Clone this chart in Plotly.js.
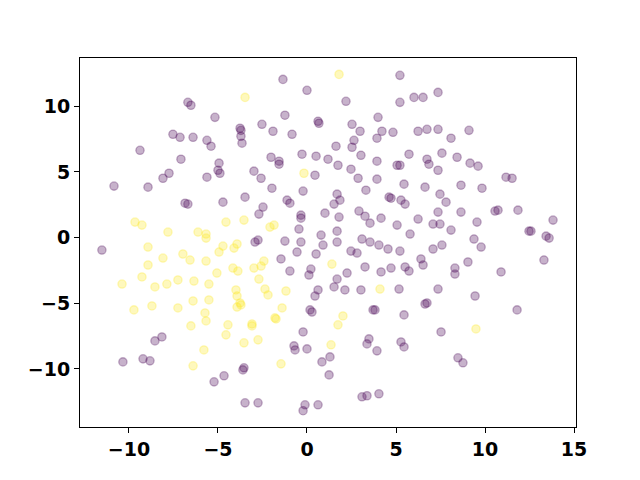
<!DOCTYPE html>
<html>
<head>
<meta charset="utf-8">
<script src="https://cdn.plot.ly/plotly-3.0.1.min.js"></script>
<style>html,body{margin:0;padding:0;background:#fff;}#chart{width:640px;height:480px;}</style>
</head>
<body>
<div id="chart"></div>
<script>
// Class 0 (purple) points
const purpleX = [-6.69,-6.52,-7.53,-7.13,-6.40,-9.38,-7.08,-7.75,-8.09,
  -1.35,0.00,-5.17,-1.24,-2.53,0.62,0.67,-3.76,-3.71,-1.91,-0.84,-3.71,-5.62,-5.39,-3.65,-2.02,-1.57,-1.57,-0.28,0.51,1.18,-4.94,-5.00,-4.89,-2.98,-2.58,-5.62,0.45,
  5.22,7.36,6.01,6.52,2.19,5.22,3.99,2.53,2.98,4.21,4.83,6.24,6.74,7.36,8.09,3.93,2.64,2.53,1.63,3.03,5.73,3.93,6.74,7.58,6.85,5.06,5.22,1.74,2.47,7.36,2.87,3.93,5.45,
  9.10,8.43,9.16,9.61,11.18,11.52,
  -10.84,-8.93,-6.85,-6.69,-11.52,
  -1.97,-0.22,-3.48,-4.72,-1.12,-0.96,-2.47,-2.70,-0.34,-0.34,1.01,-0.45,0.79,0.90,-2.75,-2.92,-1.24,-0.34,-0.56,0.51,-1.46,0.22,0.11,-0.96,0.62,0.45,
  6.63,3.31,1.69,1.52,1.85,4.61,4.72,5.28,5.51,7.47,7.81,1.80,2.92,3.26,3.54,4.16,6.24,5.06,7.36,7.08,7.47,8.09,1.69,5.79,1.69,3.09,3.54,4.04,4.55,5.22,2.47,2.81,7.08,7.58,6.40,6.52,3.26,4.72,4.16,5.51,5.73,2.25,8.31,8.31,1.69,1.52,2.13,3.03,5.17,7.36,6.63,6.74,
  8.65,9.83,8.65,10.56,10.73,11.85,9.55,12.47,12.58,13.43,13.60,13.82,9.38,9.78,9.04,10.90,13.31,9.44,
  -8.54,-8.15,-10.34,-9.21,-8.82,
  0.17,0.28,-0.22,-0.73,-0.67,0.00,1.29,0.84,1.24,-3.54,-3.60,-4.66,-5.22,-3.48,-2.75,-0.11,-0.22,0.62,
  3.71,3.82,5.45,7.53,3.48,3.37,3.93,5.28,5.45,3.09,3.37,4.04,
  11.80,8.48,8.76];
const purpleY = [10.30,10.08,7.87,7.64,7.64,6.65,5.97,4.90,4.52,
  12.05,11.22,9.16,9.32,8.63,8.86,8.71,8.33,8.17,8.10,7.87,7.72,7.41,6.96,7.19,6.12,5.82,5.59,6.35,6.20,5.97,5.67,5.13,4.90,5.06,4.52,4.60,4.75,
  12.36,11.06,10.68,10.68,10.38,10.30,9.16,8.63,8.10,8.10,8.02,8.10,8.25,8.25,7.57,7.57,7.41,6.88,6.96,6.27,6.35,5.82,5.97,6.43,5.59,5.51,5.51,5.51,5.21,5.13,4.52,4.45,4.07,
  8.17,6.12,5.67,5.44,4.60,4.52,
  3.92,3.84,2.62,2.55,-0.95,
  3.76,3.54,3.08,2.70,2.85,2.62,2.32,1.79,1.71,1.48,1.86,0.65,0.19,-0.57,-0.19,-0.34,-0.27,-0.34,-1.10,-1.25,-1.63,-2.40,-2.85,-2.55,-3.99,-4.45,
  3.84,3.61,3.31,2.55,2.85,3.08,3.00,2.85,2.55,3.31,2.70,1.56,2.02,1.63,1.10,1.48,1.41,0.95,1.94,1.03,1.03,0.57,0.49,0.27,-0.34,-0.11,-0.34,-0.57,-0.87,-1.03,-1.03,-1.18,-0.87,-0.57,-1.63,-2.09,-2.24,-2.32,-2.62,-2.24,-2.55,-2.70,-2.32,-2.78,-3.16,-3.76,-3.99,-3.99,-3.92,-3.92,-5.06,-4.98,
  3.99,3.76,1.94,2.02,2.09,2.09,1.18,0.49,0.49,0.11,-0.04,1.33,-0.11,-0.72,-1.86,-2.62,-1.71,-4.45,
  -7.87,-7.57,-9.47,-9.24,-9.39,
  -5.51,-5.67,-7.19,-8.25,-8.56,-8.48,-9.09,-9.47,-10.46,-9.92,-10.08,-10.53,-10.99,-12.59,-12.59,-12.74,-13.19,-12.74,
  -5.51,-5.51,-5.89,-7.19,-7.72,-8.10,-8.63,-7.95,-8.33,-12.13,-12.05,-11.90,
  -5.51,-9.16,-9.54];

// Class 1 (yellow) points
const yellowX = [-3.48,1.80,-0.17,-9.66,-9.27,-7.81,-6.12,-5.67,-5.67,-8.93,-6.97,-6.57,-5.67,-8.09,-8.93,-9.27,-10.39,-8.54,-7.87,-7.25,-6.35,-6.40,
  -4.55,-3.54,-2.08,-1.85,-3.93,-4.10,-4.72,-4.94,-2.42,-2.58,-2.98,-4.16,-3.88,-5.06,-2.70,-5.51,-2.36,-3.99,-3.93,-2.19,-1.18,-5.51,-3.76,-1.40,1.40,4.10,
  -9.72,-8.71,-7.25,-5.73,-5.67,-6.52,-5.79,-6.40,-3.93,-3.71,-4.44,-3.09,-3.09,-1.80,-1.74,-4.55,-3.54,-2.75,-1.46,2.02,1.74,1.35,9.49];
const yellowY = [10.68,12.43,4.90,1.18,0.95,0.42,0.42,0.27,-0.04,-0.72,-1.25,-1.71,-1.79,-1.56,-2.09,-3.00,-3.54,-3.76,-3.54,-3.23,-3.31,-4.83,
  1.18,1.33,0.80,0.95,-0.49,-0.80,-0.65,-1.10,-1.79,-2.17,-2.32,-2.32,-2.55,-2.70,-3.16,-3.54,-3.92,-3.99,-4.45,-4.37,-4.07,-4.75,-4.98,-5.36,-2.02,-3.92,
  -5.51,-5.21,-5.36,-5.74,-6.35,-6.73,-8.56,-9.77,-5.29,-5.13,-6.65,-6.58,-6.73,-6.12,-6.20,-7.41,-8.02,-7.79,-9.62,-5.97,-6.65,-8.17,-6.96];

const xTicks = [-10, -5, 0, 5, 10, 15];
const yTicks = [-10, -5, 0, 5, 10];

function mk(x, y, rgb) {
  return {
    type: 'scatter', mode: 'markers', x: x, y: y, hoverinfo: 'skip',
    marker: { size: 8.3, color: 'rgba(' + rgb + ',0.3)', line: { width: 1.3, color: 'rgba(' + rgb + ',0.3)' } }
  };
}

const traces = [mk(purpleX, purpleY, '68,1,84'), mk(yellowX, yellowY, '253,231,37')];

const tickFont = { family: 'DejaVu Sans', size: 19, color: '#000', weight: 'bold' };
const axisCommon = {
  showgrid: false, zeroline: false, showline: true, linecolor: '#000', linewidth: 1,
  mirror: true, ticks: 'outside', ticklen: 5, tickwidth: 1, tickcolor: '#000',
  tickfont: tickFont
};

const layout = {
  width: 640, height: 480,
  margin: { l: 80, r: 64, t: 58, b: 53, pad: 0 },
  paper_bgcolor: '#fff', plot_bgcolor: '#fff',
  showlegend: false,
  xaxis: Object.assign({}, axisCommon, { range: [-12.75, 15.11], tickvals: xTicks, ticktext: xTicks.map(v => v < 0 ? '\u2212' + Math.abs(v) : String(v)) }),
  yaxis: Object.assign({}, axisCommon, { range: [-14.43, 13.68], tickvals: yTicks, ticktext: yTicks.map(v => v < 0 ? '\u2212' + Math.abs(v) : String(v)) })
};

Plotly.newPlot('chart', traces, layout, { displayModeBar: false, staticPlot: true });
</script>
</body>
</html>
